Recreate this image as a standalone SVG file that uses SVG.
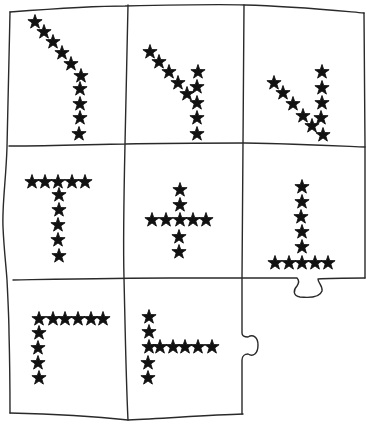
<svg xmlns="http://www.w3.org/2000/svg" width="367" height="425" viewBox="0 0 367 425">
<defs>
<style>
.ln{fill:none;stroke:#2a2a2a;stroke-width:1.4;stroke-linecap:round;stroke-linejoin:round}
</style>
<polygon id="s" points="0,-7.5 1.7,-2.4 7.1,-2.3 2.8,0.9 4.4,6.1 0,3 -4.4,6.1 -2.8,0.9 -7.1,-2.3 -1.7,-2.4" fill="#111" stroke="#111" stroke-width="0.9" stroke-linejoin="round"/>
</defs>
<rect width="367" height="425" fill="#fff"/>
<g id="grid">
<path class="ln" d="M10,12 C50,9 100,6 125,6 C170,5 220,4 245,5 C290,6 330,10 364,13"/>
<path class="ln" d="M10,12 C9,60 8,110 7,147 C6,180 2,205 3,227 C4,250 6,265 7,280 C8,300 9,320 9,333 C10,370 10,395 10,413"/>
<path class="ln" d="M364,13 L365,146 L365,278"/>
<path class="ln" d="M9,146 C60,146 100,144 125,144 C170,143 210,143 245,143 C300,144 340,146 365,147"/>
<path class="ln" d="M13,280 C70,279 120,278 170,278 C210,278 240,278 297,278 C299,280 299,283 297,286 C293,290 293,296 300,297 C310,298 320,297 322,291 C323,286 318,283 318,279 C330,278 350,278 365,278"/>
<path class="ln" d="M128,5 C127,50 126,100 125,144 C124,190 123,240 124,278 C125,320 126,380 128,420"/>
<path class="ln" d="M244,5 L243,143 L242,278 L242,333 C242,336 245,337 248,337 C253,334 258,337 258,345 C258,354 253,357 248,354 C245,354 242,356 242,360 L242,414"/>
<path class="ln" d="M10,413 C50,414 90,416 128,420 C170,418 210,415 243,414"/>
</g>
<g id="cell1">
<use href="#s" x="35" y="22"/><use href="#s" x="44" y="32"/><use href="#s" x="53" y="42"/><use href="#s" x="62" y="53"/><use href="#s" x="71" y="64"/>
<use href="#s" x="81" y="76"/><use href="#s" x="80" y="89"/><use href="#s" x="80" y="104"/><use href="#s" x="80" y="118"/><use href="#s" x="79" y="134"/>
</g>
<g id="cell2">
<use href="#s" x="150" y="52"/><use href="#s" x="159" y="62"/><use href="#s" x="169" y="72"/><use href="#s" x="178" y="83"/><use href="#s" x="187" y="94"/>
<use href="#s" x="198" y="72"/><use href="#s" x="197" y="87"/><use href="#s" x="197" y="103"/><use href="#s" x="197" y="118"/><use href="#s" x="197" y="134"/>
</g>
<g id="cell3">
<use href="#s" x="274" y="83"/><use href="#s" x="283" y="93"/><use href="#s" x="293" y="104"/><use href="#s" x="303" y="116"/><use href="#s" x="312" y="126"/>
<use href="#s" x="322" y="72"/><use href="#s" x="322" y="88"/><use href="#s" x="322" y="103"/><use href="#s" x="321" y="118"/><use href="#s" x="323" y="135"/>
</g>
<g id="cell4">
<use href="#s" x="32" y="182"/><use href="#s" x="45" y="182"/><use href="#s" x="58" y="182"/><use href="#s" x="72" y="182"/><use href="#s" x="85" y="182"/>
<use href="#s" x="59" y="195"/><use href="#s" x="59" y="210"/><use href="#s" x="58" y="225"/><use href="#s" x="58" y="240"/><use href="#s" x="59" y="256"/>
</g>
<g id="cell5">
<use href="#s" x="180" y="190"/><use href="#s" x="180" y="205"/><use href="#s" x="180" y="220"/><use href="#s" x="179" y="237"/><use href="#s" x="179" y="252"/>
<use href="#s" x="152" y="220"/><use href="#s" x="166" y="220"/><use href="#s" x="193" y="220"/><use href="#s" x="206" y="220"/>
</g>
<g id="cell6">
<use href="#s" x="302" y="187"/><use href="#s" x="302" y="202"/><use href="#s" x="301" y="217"/><use href="#s" x="302" y="232"/><use href="#s" x="302" y="247"/>
<use href="#s" x="275" y="263"/><use href="#s" x="289" y="263"/><use href="#s" x="302" y="263"/><use href="#s" x="315" y="263"/><use href="#s" x="328" y="263"/>
</g>
<g id="cell7">
<use href="#s" x="39" y="319"/><use href="#s" x="53" y="319"/><use href="#s" x="65" y="319"/><use href="#s" x="78" y="319"/><use href="#s" x="91" y="319"/><use href="#s" x="103" y="319"/>
<use href="#s" x="39" y="333"/><use href="#s" x="38" y="348"/><use href="#s" x="38" y="363"/><use href="#s" x="39" y="378"/>
</g>
<g id="cell8">
<use href="#s" x="149" y="317"/><use href="#s" x="149" y="332"/><use href="#s" x="149" y="347"/><use href="#s" x="148" y="363"/><use href="#s" x="148" y="378"/>
<use href="#s" x="160" y="347"/><use href="#s" x="173" y="347"/><use href="#s" x="185" y="347"/><use href="#s" x="198" y="347"/><use href="#s" x="212" y="347"/>
</g>
</svg>
